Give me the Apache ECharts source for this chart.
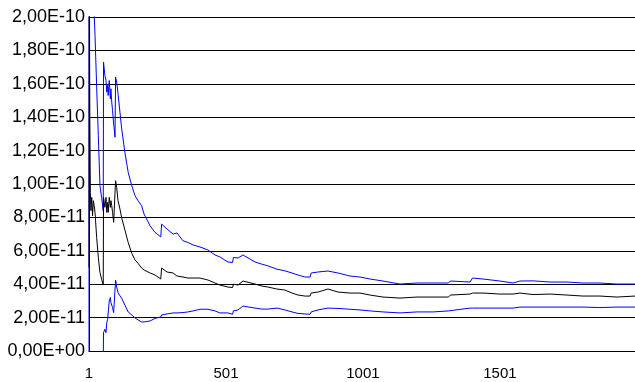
<!DOCTYPE html>
<html>
<head>
<meta charset="utf-8">
<script src="https://cdn.jsdelivr.net/npm/echarts@6/dist/echarts.min.js"></script>
<style>
  html, body { margin: 0; padding: 0; background: #fff; }
  #chart { width: 635px; height: 382px; }
</style>
</head>
<body>
<div id="chart"></div>
<script>
// Running estimate of a quantity with its upper and lower confidence bounds,
// plotted against the sample number. Values are in units of 1e-11.
const UNIT = 1e-11;

const sampleN = [
  1, 2, 4, 6, 8, 11, 14, 17, 20, 23, 29, 35, 41, 47, 53,
  54, 59, 63, 66, 69, 71, 75, 79, 81, 84, 87, 91, 95, 96, 98,
  102, 107, 114, 120, 132, 144, 157, 169, 180, 193, 202, 224, 242, 263, 266,
  286, 308, 322, 344, 362, 381, 406, 435, 461, 479, 508, 525, 528, 545, 563,
  607, 632, 654, 687, 716, 742, 764, 789, 808, 812, 837, 873, 910, 954, 990,
  1027, 1074, 1136, 1198, 1257, 1313, 1320, 1392, 1401, 1439, 1501, 1549, 1574, 1622, 1684,
  1746, 1804, 1866, 1928, 1994
];

const upperBound = [
  5, 200, 80, 50, 36, 29, 25, 22.5, 20.1, 18.9, 15.8, 12.9, 9.9, 9.2, 8.4,
  17.3, 16.5, 16.2, 15.5, 15.9, 15.3, 16.2, 15.1, 15.7, 14.9, 14.4, 13.6, 13.0, 12.8, 16.4,
  16.1, 15.4, 14.3, 13.35, 11.9, 10.7, 9.9, 9.3, 9.0, 8.7, 8.2, 7.5, 7.1, 6.83, 7.6,
  7.3, 7.0, 7.07, 6.6, 6.5, 6.35, 6.23, 6.05, 5.75, 5.63, 5.33, 5.3, 5.6, 5.57, 5.75,
  5.33, 5.2, 5.1, 4.9, 4.8, 4.67, 4.55, 4.43, 4.43, 4.67, 4.73, 4.79, 4.67, 4.49, 4.43,
  4.31, 4.19, 4.01, 4.07, 4.07, 4.07, 4.19, 4.13, 4.37, 4.31, 4.19, 4.07, 4.19, 4.2, 4.13,
  4.13, 4.07, 4.07, 4.01, 4.01
];

const meanValue = [
  5, 25, 14, 9.5, 8.4, 9.2, 8.1, 9.0, 8.7, 8.3, 6.8, 5.6, 4.7, 4.3, 3.95,
  9.2, 8.6, 9.2, 8.3, 8.9, 8.3, 9.2, 8.6, 9.0, 8.7, 8.3, 7.7, 7.7, 7.7, 10.2,
  9.8, 9.0, 8.5, 8.0, 7.25, 6.5, 5.85, 5.45, 5.25, 4.97, 4.85, 4.67, 4.55, 4.31, 4.97,
  4.73, 4.67, 4.49, 4.43, 4.37, 4.37, 4.37, 4.25, 4.07, 3.95, 3.83, 3.8, 4.0, 3.95, 4.19,
  4.01, 3.89, 3.83, 3.71, 3.65, 3.47, 3.35, 3.29, 3.29, 3.47, 3.53, 3.71, 3.53, 3.47, 3.47,
  3.35, 3.23, 3.17, 3.23, 3.23, 3.23, 3.35, 3.41, 3.47, 3.47, 3.41, 3.41, 3.47, 3.38, 3.41,
  3.35, 3.29, 3.29, 3.23, 3.29
];

const lowerBound = [
  5, -150, -52, -31, -19, -10.6, -8.8, -4.5, -2.7, -1.9, -2.1, -1.4, -0.5, -0.6, -0.5,
  1.1, 1.3, 1.1, 1.7, 1.9, 2.0, 3.0, 3.2, 2.9, 3.0, 2.6, 2.3, 2.3, 2.3, 4.25,
  3.83, 3.5, 3.3, 3.17, 2.75, 2.34, 2.16, 1.98, 1.86, 1.74, 1.74, 1.8, 1.95, 2.04, 2.16,
  2.22, 2.28, 2.28, 2.3, 2.34, 2.4, 2.5, 2.5, 2.4, 2.28, 2.28, 2.2, 2.4, 2.46, 2.69,
  2.57, 2.51, 2.51, 2.57, 2.46, 2.34, 2.25, 2.22, 2.2, 2.34, 2.46, 2.57, 2.55, 2.5, 2.46,
  2.4, 2.34, 2.28, 2.34, 2.34, 2.4, 2.51, 2.57, 2.57, 2.57, 2.57, 2.57, 2.63, 2.63, 2.63,
  2.63, 2.63, 2.6, 2.63, 2.63
];

const xTickValues = [1, 501, 1001, 1501];

const FONT = '"Liberation Sans", Arial, sans-serif';

function pairs(values) {
  return sampleN.map((n, i) => [n, values[i]]);
}

// 2,00E-10 style: two decimals, comma separator, two-digit exponent
function sciLabel(v) {
  const parts = (v * UNIT).toExponential(2).split('e');
  const mant = parts[0].replace('.', ',');
  const sign = parts[1][0] === '-' ? '-' : '+';
  let exp = parts[1].replace(/^[+-]/, '');
  if (exp.length < 2) exp = '0' + exp;
  return mant + 'E' + sign + exp;
}

const chart = echarts.init(document.getElementById('chart'), null, { renderer: 'canvas' });

const lineStyleOf = (color) => ({ color: color, width: 1 });

chart.setOption({
  animation: false,
  backgroundColor: '#ffffff',
  grid: { left: 89, right: 0, top: 17, bottom: 31, containLabel: false },
  xAxis: {
    type: 'value',
    min: 1,
    max: 1994,
    axisLine: { show: true, lineStyle: { color: '#000', width: 1 } },
    axisTick: { show: false },
    splitLine: { show: false },
    axisLabel: {
      customValues: xTickValues,
      formatter: (v) => String(Math.round(v)),
      color: '#000',
      fontFamily: FONT,
      fontSize: 15,
      margin: 15
    }
  },
  yAxis: {
    type: 'value',
    min: 0,
    max: 20,
    interval: 2,
    axisLine: { show: true, lineStyle: { color: '#000', width: 1 } },
    axisTick: { show: false },
    splitLine: { show: true, lineStyle: { color: '#000', width: 1 } },
    axisLabel: {
      formatter: sciLabel,
      color: '#000',
      fontFamily: FONT,
      fontSize: 18,
      margin: 4
    }
  },
  series: [
    {
      name: 'Upper bound',
      type: 'line',
      data: pairs(upperBound),
      symbol: 'none',
      clip: true,
      lineStyle: lineStyleOf('#0000ff'),
      itemStyle: { color: '#0000ff' },
      z: 2
    },
    {
      name: 'Lower bound',
      type: 'line',
      data: pairs(lowerBound),
      symbol: 'none',
      clip: true,
      lineStyle: lineStyleOf('#0000ff'),
      itemStyle: { color: '#0000ff' },
      z: 2
    },
    {
      name: 'Mean',
      type: 'line',
      data: pairs(meanValue),
      symbol: 'none',
      clip: true,
      lineStyle: lineStyleOf('#000000'),
      itemStyle: { color: '#000000' },
      z: 3
    }
  ]
});
</script>
</body>
</html>
